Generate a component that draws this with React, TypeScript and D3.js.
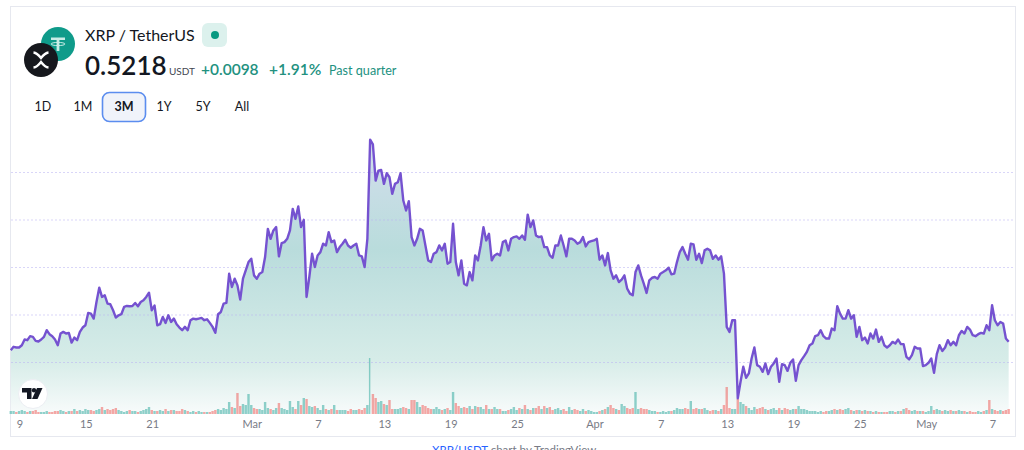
import * as d3 from "d3";

// 6-hourly closes
const prices = [
  0.513, 0.5165, 0.5158, 0.5158, 0.5182, 0.5242, 0.5235, 0.5277, 0.527, 0.5228,
  0.5221, 0.5242, 0.527, 0.534, 0.5298, 0.5277, 0.5242, 0.5182, 0.5305, 0.5322,
  0.5305, 0.5312, 0.521, 0.5263, 0.5235, 0.5322, 0.5368, 0.5392, 0.5522, 0.5515,
  0.5462, 0.5637, 0.5788, 0.569, 0.5707, 0.562, 0.5613, 0.555, 0.5473, 0.5497,
  0.5508, 0.5585, 0.5595, 0.5592, 0.5595, 0.5627, 0.5592, 0.5637, 0.5655, 0.569,
  0.5735, 0.555, 0.56, 0.5392, 0.5403, 0.548, 0.5417, 0.5497, 0.5427, 0.5462,
  0.5403, 0.5368, 0.534, 0.5375, 0.534, 0.5445, 0.5462, 0.5455, 0.5462, 0.5469,
  0.5445, 0.5455, 0.5417, 0.5375, 0.5312, 0.5508, 0.5532, 0.562, 0.5627, 0.5935,
  0.5795, 0.5882, 0.5812, 0.5662, 0.5882, 0.597, 0.6057, 0.6092, 0.5917, 0.5882,
  0.5935, 0.5952, 0.611, 0.6407, 0.6302, 0.639, 0.6425, 0.6117, 0.6257, 0.6267,
  0.6302, 0.639, 0.6617, 0.6512, 0.6642, 0.6425, 0.6502, 0.569, 0.59, 0.6145,
  0.6005, 0.6127, 0.6162, 0.625, 0.6232, 0.6372, 0.6267, 0.6285, 0.6162, 0.6215,
  0.625, 0.6292, 0.6232, 0.6208, 0.6232, 0.625, 0.6127, 0.6117, 0.6005, 0.6302,
  0.7345, 0.7295, 0.6915, 0.702, 0.7027, 0.688, 0.6992, 0.695, 0.6775, 0.688,
  0.6897, 0.6992, 0.6705, 0.66, 0.6698, 0.632, 0.6232, 0.6302, 0.6407, 0.639,
  0.6232, 0.6075, 0.6057, 0.6145, 0.6162, 0.6232, 0.618, 0.625, 0.604, 0.6057,
  0.646, 0.6057, 0.5917, 0.6075, 0.583, 0.5812, 0.5952, 0.5865, 0.6127, 0.6075,
  0.6232, 0.6425, 0.6285, 0.6355, 0.6075, 0.6127, 0.6145, 0.6127, 0.6267, 0.6285,
  0.618, 0.6302, 0.632, 0.6327, 0.6302, 0.6337, 0.6292, 0.6557, 0.6425, 0.6495,
  0.6337, 0.632, 0.6327, 0.6215, 0.6215, 0.6127, 0.6102, 0.6232, 0.6232, 0.6337,
  0.6232, 0.6117, 0.6302, 0.6302, 0.6285, 0.625, 0.6267, 0.632, 0.6222, 0.6267,
  0.6277, 0.6285, 0.6302, 0.6082, 0.6127, 0.6022, 0.6152, 0.597, 0.5882, 0.5917,
  0.5847, 0.5872, 0.5917, 0.5777, 0.5725, 0.5707, 0.5952, 0.6022, 0.5917, 0.583,
  0.5732, 0.5865, 0.5892, 0.59, 0.5882, 0.5935, 0.5952, 0.597, 0.5998, 0.5928,
  0.5935, 0.6057, 0.6162, 0.6215, 0.6145, 0.6082, 0.625, 0.6243, 0.6082, 0.6145,
  0.6047, 0.618, 0.6197, 0.618, 0.6092, 0.6127, 0.6082, 0.6117, 0.5935, 0.5375,
  0.5322, 0.5445, 0.5445, 0.4622, 0.4797, 0.4955, 0.4839, 0.4885, 0.5042, 0.5158,
  0.4972, 0.4955, 0.4902, 0.499, 0.4878, 0.4955, 0.499, 0.5042, 0.4797, 0.4983,
  0.4972, 0.4912, 0.4997, 0.5032, 0.4808, 0.4972, 0.5025, 0.5067, 0.5112, 0.5182,
  0.52, 0.5277, 0.5287, 0.534, 0.5277, 0.5252, 0.5252, 0.5357, 0.534, 0.5592,
  0.5515, 0.5462, 0.5462, 0.555, 0.5462, 0.5497, 0.527, 0.5375, 0.5235, 0.5263,
  0.52, 0.5305, 0.5252, 0.5347, 0.5217, 0.527, 0.5182, 0.5158, 0.5182, 0.5217,
  0.52, 0.5242, 0.5193, 0.5193, 0.506, 0.5032, 0.5077, 0.5165, 0.5147, 0.5147,
  0.4962, 0.4972, 0.4997, 0.5042, 0.4892, 0.5088, 0.5182, 0.5122, 0.5158, 0.5235,
  0.5182, 0.5217, 0.5182, 0.5287, 0.5332, 0.5305, 0.5375, 0.5347, 0.5287, 0.5277,
  0.5298, 0.5312, 0.5305, 0.5392, 0.534, 0.5602, 0.5445, 0.5392, 0.5427, 0.541,
  0.5252, 0.5218,
];

// same 6-hour bars, arbitrary volume units
const volumes = [
  3, 3, 2, 3, 4, 3, 2, 3, 3, 4, 2, 2, 2, 3, 2, 2, 3, 3, 4, 3,
  2, 3, 3, 5, 3, 4, 3, 5, 4, 4, 3, 4, 5, 7, 4, 5, 4, 5, 6, 4,
  3, 2, 3, 4, 3, 3, 2, 3, 4, 5, 7, 4, 3, 3, 4, 3, 5, 3, 4, 4,
  3, 3, 5, 4, 3, 2, 3, 2, 3, 2, 2, 2, 2, 3, 4, 5, 4, 6, 5, 12,
  7, 6, 21, 8, 10, 9, 20, 9, 6, 5, 5, 4, 12, 6, 5, 4, 6, 11, 6, 5,
  4, 13, 7, 5, 13, 9, 16, 15, 8, 7, 8, 6, 4, 9, 5, 4, 5, 9, 4, 4,
  4, 4, 3, 5, 4, 4, 5, 4, 6, 9, 56, 20, 16, 12, 13, 10, 9, 14, 5, 5,
  5, 6, 7, 6, 5, 14, 14, 12, 7, 9, 8, 6, 5, 5, 7, 5, 4, 5, 6, 4,
  22, 11, 8, 6, 7, 6, 8, 5, 8, 7, 7, 5, 9, 5, 5, 7, 5, 5, 3, 3,
  4, 5, 7, 4, 6, 5, 9, 5, 4, 6, 6, 8, 5, 8, 6, 7, 4, 5, 6, 4,
  5, 3, 7, 4, 5, 4, 3, 5, 3, 4, 3, 2, 2, 3, 4, 5, 7, 9, 6, 5,
  4, 10, 8, 6, 5, 6, 22, 5, 6, 5, 5, 4, 3, 3, 2, 2, 3, 2, 3, 3,
  4, 6, 5, 5, 6, 5, 13, 5, 6, 5, 5, 6, 4, 3, 4, 4, 3, 5, 9, 27,
  6, 5, 5, 15, 12, 10, 8, 6, 4, 7, 5, 6, 7, 5, 4, 5, 6, 4, 6, 4,
  6, 5, 4, 5, 5, 8, 5, 5, 4, 3, 3, 3, 2, 3, 2, 3, 3, 4, 5, 4,
  5, 4, 5, 6, 4, 3, 4, 4, 3, 4, 3, 3, 2, 3, 2, 2, 2, 2, 3, 3,
  2, 3, 3, 5, 6, 4, 3, 4, 3, 3, 3, 2, 3, 8, 4, 5, 4, 3, 4, 3,
  4, 3, 3, 4, 3, 3, 2, 3, 2, 2, 3, 2, 3, 4, 14, 5, 4, 3, 4, 3,
  4, 5,
];

const gridPrices = [0.5, 0.55, 0.6, 0.65, 0.7];
const tickDates = [
  "2024-02-09", "2024-02-15", "2024-02-21", "2024-03-01", "2024-03-07",
  "2024-03-13", "2024-03-19", "2024-03-25", "2024-04-01", "2024-04-07",
  "2024-04-13", "2024-04-19", "2024-04-25", "2024-05-01", "2024-05-07",
];
const tickLabels = ["9", "15", "21", "Mar", "7", "13", "19", "25", "Apr", "7", "13", "19", "25", "May", "7"];
const ranges = ["1D", "1M", "3M", "1Y", "5Y", "All"];
const rangeX = [43, 83, 124, 164, 203, 242];

const FONT = "Lato, 'Open Sans', sans-serif";
const start = new Date("2024-02-08T04:00:00Z").getTime();
const dates = prices.map((_, i) => new Date(start + i * 6 * 3600 * 1000));

const x = d3
  .scaleUtc()
  .domain([new Date("2024-02-09T00:00:00Z"), new Date("2024-05-07T00:00:00Z")])
  .range([20, 993]);
const y = d3.scaleLinear().domain([0.5, 0.7]).range([362.5, 172.5]);
const volY = d3.scaleLinear().domain([0, 56]).range([414, 358]);
const plotBottom = 414;

export default function App() {
  const line = d3
    .line<number>()
    .x((_, i) => x(dates[i]))
    .y((d) => y(d));
  const area = d3
    .area<number>()
    .x((_, i) => x(dates[i]))
    .y0(plotBottom)
    .y1((d) => y(d));

  return (
    <svg
      width={1024}
      height={450}
      style={{ position: "absolute", left: 0, top: 0, background: "#fff" }}
      fontFamily={FONT}
    >
      <defs>
        <linearGradient id="fill" gradientUnits="userSpaceOnUse" x1="0" x2="0" y1="140" y2="414">
          <stop offset="0" stopColor="#d3deec" />
          <stop offset="0.4" stopColor="#b9dcdc" />
          <stop offset="0.8" stopColor="#d6ece8" />
          <stop offset="1" stopColor="#f8fbfb" />
        </linearGradient>
      </defs>

      <rect x={10.5} y={6.5} width={1005} height={430} fill="#fff" stroke="#e6e8ef" />

      <path d={area(prices) ?? ""} fill="url(#fill)" />

      {gridPrices.map((p) => (
        <line
          key={p}
          x1={11}
          x2={1015}
          y1={y(p)}
          y2={y(p)}
          stroke="#b9b4f2"
          strokeOpacity={0.55}
          strokeDasharray="2 2"
        />
      ))}

      {volumes.map((v, i) => {
        const up = i === 0 || prices[i] >= prices[i - 1];
        return (
          <rect
            key={i}
            x={x(dates[i]) - 1.2}
            y={volY(v)}
            width={v > 40 ? 1.4 : 2.4}
            height={plotBottom - volY(v)}
            fill={up ? "#26a69a" : "#ef5350"}
            fillOpacity={0.5}
          />
        );
      })}

      <path d={line(prices) ?? ""} fill="none" stroke="#7552d0" strokeWidth={2.4} strokeLinejoin="round" />

      {tickDates.map((d, i) => (
        <text
          key={d}
          x={x(new Date(d + "T00:00:00Z"))}
          y={428}
          textAnchor="middle"
          fontSize={11}
          fill="#787b86"
        >
          {tickLabels[i]}
        </text>
      ))}

      {/* tradingview badge */}
      <circle cx={33} cy={394} r={14.5} fill="#fff" stroke="#eceef3" />
      <path d="M22 388h9.5v11h-4.5v-6.5h-5z" fill="#131722" />
      <circle cx={34} cy={390.3} r={2.2} fill="#131722" />
      <path d="M37 388h5.5l-5 11h-5.5z" fill="#131722" />

      {/* symbol icons */}
      <circle cx={58} cy={44} r={17} fill="#0f9b8a" />
      <path d="M51 37.5h14v2.4h-5.6v3h-2.8v-3h-5.6z" fill="#c9ece6" />
      <ellipse cx={58} cy={44} rx={7} ry={1.6} fill="none" stroke="#c9ece6" />
      <rect x={56.6} y={42} width={2.8} height={9} fill="#c9ece6" />
      <circle cx={41} cy={60} r={17} fill="#16181d" />
      <path
        d="M33.5 52.5Q37 52.8 41 58Q45 52.8 48.5 52.5M33.5 67.5Q37 67.2 41 62Q45 67.2 48.5 67.5"
        fill="none"
        stroke="#fff"
        strokeWidth={2.4}
      />

      {/* header */}
      <text x={85} y={41} fontSize={16} fill="#131722">
        XRP / TetherUS
      </text>
      <rect x={202} y={23} width={25} height={24} rx={6} fill="#dcf1ed" />
      <circle cx={215} cy={35} r={4} fill="#089981" />
      <text x={85} y={75} fontSize={26} fontWeight={600} fill="#131722">
        0.5218
      </text>
      <text x={169} y={75} fontSize={10} fill="#434651">
        USDT
      </text>
      <text x={201} y={75} fontSize={15.5} fontWeight={600} fill="#22917f">
        +0.0098
      </text>
      <text x={269} y={75} fontSize={15.5} fontWeight={600} fill="#22917f">
        +1.91%
      </text>
      <text x={329} y={75} fontSize={12.6} fill="#22917f">
        Past quarter
      </text>

      {/* range buttons */}
      <rect x={102.5} y={92.5} width={43} height={29} rx={7} fill="#f0f3fa" stroke="#5b8def" strokeWidth={1.6} />
      {ranges.map((r, i) => (
        <text
          key={r}
          x={rangeX[i]}
          y={111}
          textAnchor="middle"
          fontSize={12.5}
          fontWeight={r === "3M" ? 700 : 400}
          fill="#131722"
        >
          {r}
        </text>
      ))}

      <text x={432} y={454} fontSize={11.5} fill="#787b86">
        <tspan fill="#2962ff">XRP/USDT</tspan> chart by TradingView
      </text>
    </svg>
  );
}
